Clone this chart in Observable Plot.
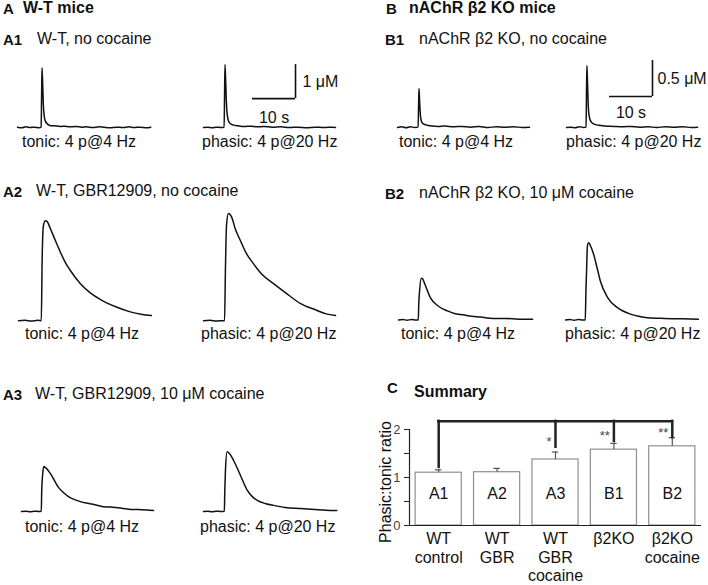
<!DOCTYPE html>
<html><head><meta charset="utf-8">
<script src="https://cdn.jsdelivr.net/npm/d3@7"></script>
<script src="https://cdn.jsdelivr.net/npm/@observablehq/plot@0.6"></script>
<style>
body{margin:0;background:#fff;}
#fig{position:relative;width:708px;height:585px;overflow:hidden;font-family:"Liberation Sans",Arial,sans-serif;color:#111;background:#fff;}
.lbl{position:absolute;white-space:nowrap;}
.pl{position:absolute;}
.ylab{position:absolute;white-space:nowrap;font-size:16px;line-height:16px;transform:translate(-50%,-50%) rotate(-90deg);}
</style></head><body><div id="fig"></div>
<script>
// ---------------- DATA ----------------
// traces: [time (s), dopamine (µM)]
const a1Tonic = [[0,0.01],[1,-0.01],[2,0.02],[3,0],[4,0.01],[5,-0.01],[5.5,0.01],[5.6,0.9],[5.7,1.76],[5.85,1.3],[6.0,0.7],[6.2,0.35],[6.5,0.18],[7,0.1],[7.5,0.06],[8.5,0.05],[10,0.03],[11,0.04],[12,0.02],[13.5,0.03],[15,0.01],[16,0.02],[17.5,0],[19,0.02],[20,0.01],[21.5,-0.01],[23,0.01],[24.5,0],[26,0.02],[27,0],[28.5,0.01],[30,-0.01],[31,0.01]];
const a1Phasic = [[0,0],[1,0.01],[2,-0.01],[3,0.01],[4,0],[4.8,0.01],[4.9,1.0],[5.0,1.85],[5.15,1.4],[5.3,0.8],[5.5,0.4],[5.8,0.2],[6.2,0.12],[7,0.07],[8,0.05],[9.5,0.03],[11,0.04],[12.5,0.02],[14,0.03],[16,0.01],[18,0.02],[20,0],[22,0.01],[24,-0.01],[26,0.01],[28,0],[30,0.01],[30.7,0]];
const a2Tonic = [[0,0],[1.5,0.01],[3,-0.01],[4.5,0.01],[5.3,0],[5.5,1.8],[5.8,2.8],[6.3,2.94],[6.7,2.91],[7.4,2.71],[8.6,2.35],[9.8,2.0],[10.9,1.71],[12.1,1.47],[14.4,1.09],[16.7,0.82],[19.1,0.62],[22.6,0.41],[26,0.26],[28.5,0.19],[30.9,0.15]];
const a2Phasic = [[0,0],[1.5,0.01],[3,-0.01],[4.5,0],[4.9,0],[5.1,1.5],[5.35,2.8],[5.8,3.15],[6.5,3.06],[7.4,2.7],[8.6,2.35],[10.0,1.97],[11.6,1.68],[13.7,1.35],[16.3,1.09],[19.1,0.82],[22.6,0.5],[26,0.32],[28.5,0.2],[30.7,0.15]];
const a3Tonic = [[0,0],[1,0.01],[2,-0.01],[3,0.01],[4,0],[4.6,0.01],[4.7,0.6],[4.9,1.06],[5.2,1.32],[5.6,1.29],[6.7,1.12],[8.6,0.71],[10,0.53],[11.4,0.4],[13,0.32],[15.3,0.24],[17,0.2],[19,0.14],[20.7,0.13],[23,0.1],[24.5,0.07],[26,0.06],[28,0.05],[30.7,0.03]];
const a3Phasic = [[0,0],[1,0.01],[2,-0.01],[3,0.01],[4,0],[4.85,0.01],[4.95,0.6],[5.1,1.2],[5.5,1.76],[6.0,1.71],[7.0,1.5],[8.6,1.06],[10.2,0.62],[11.4,0.43],[12.6,0.32],[14.5,0.23],[16.3,0.18],[19,0.12],[22.6,0.09],[26,0.06],[28.5,0.04],[31,0.03]];
const b1Tonic = [[0,0],[1,0.01],[2,-0.005],[3,0.01],[4,0],[4.8,0.005],[4.9,0.3],[5.0,0.54],[5.15,0.35],[5.35,0.16],[5.6,0.08],[6,0.05],[7,0.03],[8,0.02],[9.5,0.015],[11,0.02],[13,0.01],[15,0.015],[17,0.005],[19,0.015],[21,0],[23,0.01],[25,0.005],[27,0.01],[29,0],[30.7,0.005]];
const b1Phasic = [[0,0],[1,0.005],[2,-0.005],[3,0.01],[4,0],[4.55,0.005],[4.65,0.5],[4.75,0.86],[4.9,0.6],[5.05,0.32],[5.3,0.15],[5.7,0.08],[6.3,0.05],[7.5,0.03],[9,0.02],[11,0.015],[13,0.01],[15,0.015],[17,0.005],[19,0.01],[21,0],[23,0.01],[25,0.005],[27,0.01],[29,0],[30.5,0.005]];
const b2Tonic = [[0,0],[1,0.005],[2,-0.005],[3,0.005],[4,0],[4.6,0],[4.7,0.2],[4.9,0.4],[5.3,0.58],[5.6,0.57],[6.3,0.47],[7.4,0.31],[9.3,0.19],[11.4,0.125],[13,0.09],[15.1,0.07],[17,0.05],[19.1,0.04],[22,0.02],[25,0.02],[28,0.01],[31.2,0.01]];
const b2Phasic = [[0,0],[1,0.005],[2,-0.005],[3,0.005],[4,0],[4.6,0],[4.75,0.4],[4.9,0.68],[5.1,1.03],[5.4,1.07],[5.8,1.03],[6.5,0.92],[7.4,0.71],[8.1,0.54],[9.8,0.31],[12.1,0.17],[15.1,0.08],[17,0.05],[19.1,0.03],[23,0.02],[27,0.015],[30.9,0.01]];

// scale bars (time s, concentration µM)
const scaleBarA = {t0: 11.4, t1: 21.4, v0: 0.85, v1: 1.85, conc: "1 μM", time: "10 s"};
const scaleBarB = {t0: 10.0, t1: 20.0, v0: 0.43, v1: 0.93, conc: "0.5 μM", time: "10 s"};

// summary bar chart
const cats = ["A1", "A2", "A3", "B1", "B2"];
const ratio = [1.10, 1.11, 1.375, 1.58, 1.65];
const sem = [0.06, 0.08, 0.155, 0.13, 0.18];
const groupLabels = [["WT","control"],["WT","GBR"],["WT","GBR","cocaine"],["β2KO"],["β2KO","cocaine"]];
const yTicks = [0, 0.5, 1, 1.5, 2];
const bracketCats = ["A1", "A3", "B1", "B2"];
const bracketEnds = [1.21, 1.63, 1.75, 1.83];
const bracketStars = ["", "*", "**", "**"];
const bracketTop = 2.17;
const yAxisTitle = "Phasic:tonic ratio";

// text
const panelTitles = ["W-T mice", "nAChR β2 KO mice"];
const condTitles = ["W-T, no cocaine", "W-T, GBR12909, no cocaine", "W-T, GBR12909, 10 μM cocaine", "nAChR β2 KO, no cocaine", "nAChR β2 KO, 10 μM cocaine"];
const traceLabels = ["tonic: 4 p@4 Hz", "phasic: 4 p@20 Hz"];

// ---------------- LAYOUT ----------------
const fig = document.getElementById("fig");
const FONT = "'Liberation Sans', Arial, sans-serif";
function label(text, x, baseline, size, bold) {
  const d = document.createElement("div");
  d.className = "lbl";
  d.textContent = text;
  d.style.left = x + "px";
  d.style.top = (baseline - 0.8465 * size) + "px";
  d.style.fontSize = size + "px";
  d.style.lineHeight = size + "px";
  d.style.fontWeight = bold ? "700" : "400";
  fig.appendChild(d);
}
function place(svg, left, top) {
  const d = document.createElement("div");
  d.className = "pl";
  d.style.left = left + "px";
  d.style.top = top + "px";
  d.appendChild(svg);
  fig.appendChild(d);
}
const PX_PER_S = 4.3, T_MAX = 31;
const STYLE = {fontFamily: FONT, fontSize: "16px", overflow: "visible", background: "transparent", color: "#111"};
function scaleBarMarks(s, dyTime, dxConc) {
  return [
    Plot.ruleX([s], {x: "t1", y1: "v0", y2: "v1", stroke: "#111", strokeWidth: 1.6}),
    Plot.ruleY([s], {y: "v0", x1: "t0", x2: "t1", stroke: "#111", strokeWidth: 1.6}),
    Plot.text([s], {x: "t1", y: d => (d.v0 + d.v1) / 2, text: "conc", textAnchor: "start", dx: dxConc, fill: "#111"}),
    Plot.text([s], {x: d => (d.t0 + d.t1) / 2, y: "v0", text: "time", dy: dyTime, fill: "#111"})
  ];
}
function trace(data, left, base, k, ymin, ymax, extra = []) {
  const svg = Plot.plot({
    width: T_MAX * PX_PER_S, height: (ymax - ymin) * k, margin: 0,
    x: {domain: [0, T_MAX], axis: null},
    y: {domain: [ymin, ymax], axis: null},
    style: STYLE,
    marks: [
      Plot.line(data, {x: d => d[0], y: d => d[1], stroke: "#111", strokeWidth: 1.5, curve: "monotone-x"}),
      ...extra
    ]
  });
  place(svg, left, base - ymax * k);
}

// headings
label("A", 3, 14, 15, true);
label(panelTitles[0], 23, 14, 16, true);
label("B", 386, 14, 15, true);
label(panelTitles[1], 409, 14, 16, true);
label("A1", 3, 45, 15, true); label(condTitles[0], 37, 45, 16);
label("A2", 3, 197, 15, true); label(condTitles[1], 36, 197, 16);
label("A3", 3, 400, 15, true); label(condTitles[2], 35, 400, 16);
label("B1", 385, 45, 15, true); label(condTitles[3], 419, 45, 16);
label("B2", 385, 199, 15, true); label(condTitles[4], 419, 199, 16);

// traces, A: 34 px/µM, B: 72 px/µM
const kA = 34, kB = 72;
trace(a1Tonic, 17, 127, kA, -0.15, 2.0);
trace(a1Phasic, 203, 127, kA, -0.15, 2.0, scaleBarMarks(scaleBarA, 19, 7));
trace(a2Tonic, 18, 320, kA, -0.15, 3.3);
trace(a2Phasic, 203, 320, kA, -0.15, 3.3);
trace(a3Tonic, 21, 511, kA, -0.15, 2.0);
trace(a3Phasic, 203, 511, kA, -0.15, 2.0);
trace(b1Tonic, 397, 127, kB, -0.1, 1.0);
trace(b1Phasic, 566, 127, kB, -0.1, 1.0, scaleBarMarks(scaleBarB, 16, 5));
trace(b2Tonic, 398, 319, kB, -0.1, 1.2);
trace(b2Phasic, 565, 319, kB, -0.1, 1.2);

// trace labels
label(traceLabels[0], 22, 148, 16); label(traceLabels[1], 202, 148, 16);
label(traceLabels[0], 25, 340, 16); label(traceLabels[1], 201, 340, 16);
label(traceLabels[0], 25, 533, 16); label(traceLabels[1], 200, 533, 16);
label(traceLabels[0], 399, 148, 16); label(traceLabels[1], 566, 148, 16);
label(traceLabels[0], 401, 340, 16); label(traceLabels[1], 565, 340, 16);

// panel C
label("C", 387, 393, 15, true);
label("Summary", 414, 398, 16, true);

const rows = cats.map((c, i) => ({i, cat: c, r: ratio[i], e: sem[i], g: groupLabels[i].join("\n")}));
const br = bracketCats.map((c, j) => ({i: cats.indexOf(c), end: bracketEnds[j], star: bracketStars[j]}));
const half = 0.395, cap = 0.055;
const chartC = Plot.plot({
  width: 354, height: 185, marginLeft: 55, marginRight: 7, marginTop: 17, marginBottom: 60,
  x: {domain: [-0.5, cats.length - 0.5], axis: null},
  y: {domain: [0, 2.25]},
  style: STYLE,
  marks: [
    Plot.rectY(rows, {x1: d => d.i - half, x2: d => d.i + half, y1: 0, y2: "r", fill: "white", stroke: "#8f8f8f", strokeWidth: 1.2}),
    Plot.ruleX(rows, {x: "i", y1: "r", y2: d => d.r + d.e, stroke: "#555", strokeWidth: 1.2}),
    Plot.ruleY(rows, {y: d => d.r + d.e, x1: d => d.i - cap, x2: d => d.i + cap, stroke: "#555", strokeWidth: 1.2}),
    Plot.text(rows, {x: "i", text: "cat", frameAnchor: "bottom", dy: -27, fontSize: 16, fill: "#111"}),
    Plot.text(rows, {x: "i", text: "g", frameAnchor: "bottom", dy: 6, lineAnchor: "top", lineHeight: 1.14, fontSize: 16, fill: "#111"}),
    Plot.ruleY([0], {stroke: "#222", strokeWidth: 1.2}),
    Plot.ruleX([-0.5], {y1: 0, y2: 2, stroke: "#222", strokeWidth: 1.2}),
    Plot.axisY({ticks: yTicks, tickFormat: d => Number.isInteger(d) ? String(d) : "", tickSize: 5, tickPadding: 4, fontSize: 13, label: null, stroke: "#222", color: "#444"}),
    Plot.ruleY([bracketTop], {x1: d3.min(br, d => d.i), x2: d3.max(br, d => d.i), stroke: "#222", strokeWidth: 2.5, strokeLinecap: "square"}),
    Plot.ruleX(br, {x: "i", y1: "end", y2: bracketTop, stroke: "#222", strokeWidth: 2.5, strokeLinecap: "square"}),
    Plot.text(br, {x: "i", y: d => d.end + 0.11, text: "star", textAnchor: "end", dx: -4, fontSize: 13, fill: "#444"})
  ]
});
place(chartC, 354, 400);

// y-axis title of panel C
const yl = document.createElement("div");
yl.className = "ylab";
yl.textContent = yAxisTitle;
yl.style.left = "386px";
yl.style.top = "482px";
fig.appendChild(yl);
</script>
</body></html>
